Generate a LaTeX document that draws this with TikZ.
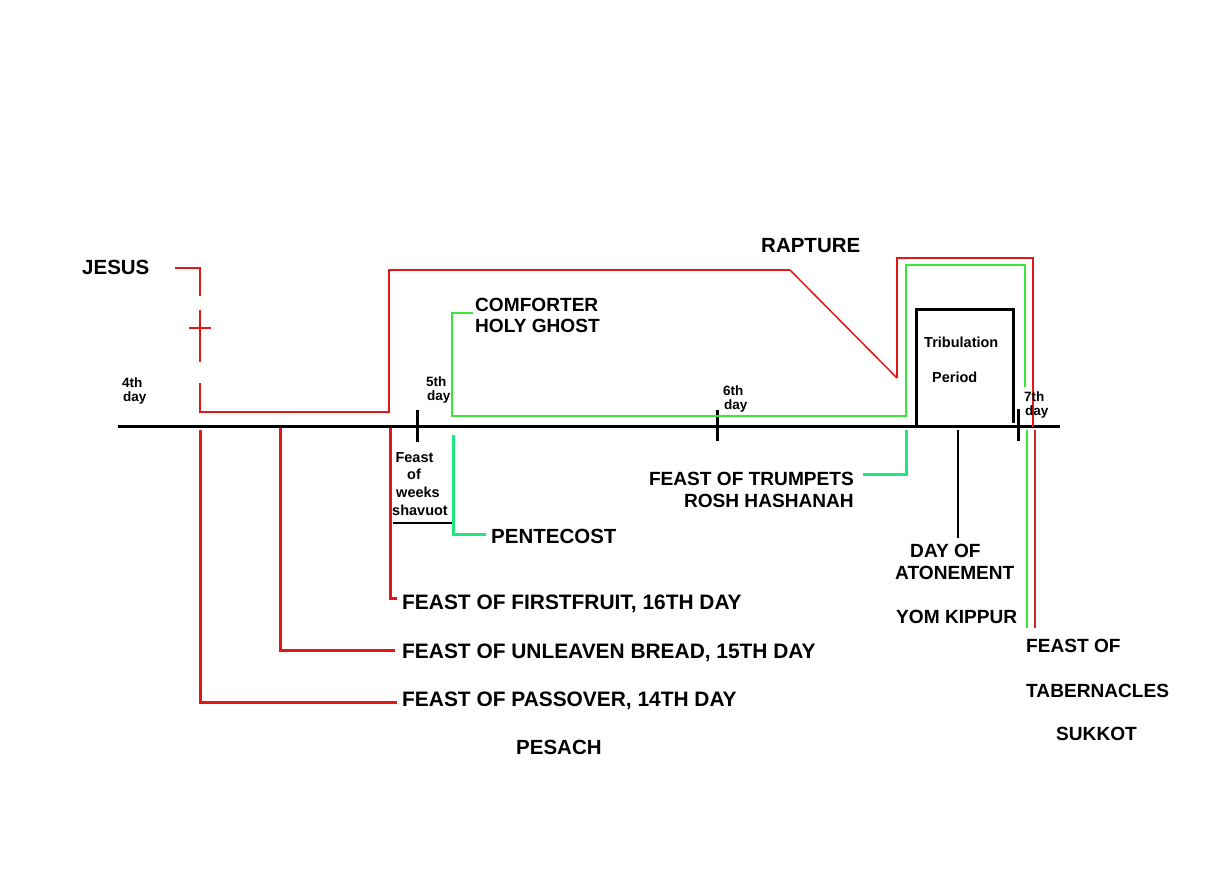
\documentclass[tikz,border=0pt]{standalone}
\usepackage{fontspec}
\setmainfont{Liberation Sans}
\definecolor{redA}{RGB}{228,22,22}
\definecolor{limeA}{RGB}{60,228,60}
\definecolor{springA}{RGB}{30,232,125}
\definecolor{darkredA}{RGB}{200,40,40}
\begin{document}
\begin{tikzpicture}[x=1pt,y=-1pt,
  big/.style={font=\fontsize{20.5}{24}\selectfont\bfseries, inner sep=0},
  feast/.style={font=\fontsize{20.9}{24}\selectfont\bfseries, inner sep=0},
  mid/.style={font=\fontsize{19.1}{22}\selectfont\bfseries, inner sep=0},
  sml/.style={font=\fontsize{14.5}{17}\selectfont\bfseries, inner sep=0},
  dayl/.style={font=\fontsize{13.5}{15}\selectfont\bfseries, inner sep=0},
  axis/.style={line width=3pt, black},
  redthin/.style={line width=2pt, redA},
  redthick/.style={line width=3pt, redA},
  greenthin/.style={line width=2pt, limeA},
  springthick/.style={line width=3pt, springA}]
\fill[white] (0,0) rectangle (1218,870);
\path[use as bounding box] (0,0) rectangle (1218,870);

% axis and ticks
\draw[axis] (118,426) -- (1060,426);
\draw[axis] (417,410) -- (417,442);
\draw[axis] (717,410) -- (717,441);
\draw[axis] (1018,409) -- (1018,441);

% tribulation box
\draw[axis, line join=miter] (916,426) -- (916,309) -- (1013,309) -- (1013,423);
\draw[line width=2pt] (958,430) -- (958,538);
\draw[line width=2pt] (393,523) -- (452,523);

% red upper line (Jesus / rapture)
\draw[redthin] (175,268) -- (200,268) -- (200,296);
\draw[redthin] (200,310) -- (200,362);
\draw[redthin] (189,328) -- (211,328);
\draw[redthin] (200,383) -- (200,412) -- (389,412) -- (389,270) -- (790,270);
\draw[line width=1.5pt, redA] (790,270) -- (897,378);
\draw[redthin] (897,378) -- (897,258) -- (1033,258) -- (1033,427);

% red lower lines
\draw[redthick] (200,430) -- (200,702) -- (397,702);
\draw[redthick] (280,428) -- (280,650) -- (395,650);
\draw[redthick] (390,428) -- (390,598) -- (397,598);

% green upper line
\draw[greenthin] (473,313) -- (452,313) -- (452,416) -- (906,416) -- (906,265)
  -- (1025,265) -- (1025,387);

% green lower
\draw[springthick] (453,435) -- (453,534) -- (486,534);
\draw[springthick] (906,430) -- (906,474) -- (863,474);

% tabernacles
\draw[greenthin] (1027,430) -- (1027,628);
\draw[line width=2pt, darkredA] (1035,430) -- (1035,628);

% texts
\node[big, anchor=base west] (jesus) at (82,274) {JESUS};
\node[big, anchor=base west] (rapture) at (761,252) {RAPTURE};
\node[mid, anchor=base west] (comf) at (475,311) {COMFORTER};
\node[mid, anchor=base west] (holy) at (475,332) {HOLY GHOST};
\node[sml, anchor=base west] (trib) at (924,347) {Tribulation};
\node[sml, anchor=base west] (period) at (932,382) {Period};

\node[dayl, anchor=base west] (d4a) at (122,387) {4th};
\node[dayl, anchor=base west] (d4b) at (123,401) {day};
\node[dayl, anchor=base west] (d5a) at (426,386) {5th};
\node[dayl, anchor=base west] (d5b) at (427,400) {day};
\node[dayl, anchor=base west] (d6a) at (723,395) {6th};
\node[dayl, anchor=base west] (d6b) at (724,409) {day};
\node[dayl, anchor=base west] (d7a) at (1024,401) {7th};
\node[dayl, anchor=base west] (d7b) at (1025,415) {day};

\node[sml, anchor=base] (fw1) at (414.5,462) {Feast};
\node[sml, anchor=base] (fw2) at (414,479) {of};
\node[sml, anchor=base] (fw3) at (418,497) {weeks};
\node[sml, anchor=base] (fw4) at (420,515) {shavuot};

\node[big, anchor=base west] (pente) at (491,543) {PENTECOST};
\node[mid, anchor=base east] (trump) at (854,485) {FEAST OF TRUMPETS};
\node[mid, anchor=base east] (rosh) at (854,507) {ROSH HASHANAH};

\node[mid, anchor=base west] (dayof) at (910,557) {DAY OF};
\node[mid, anchor=base west] (aton) at (895,579) {ATONEMENT};
\node[mid, anchor=base west] (yom) at (896,623) {YOM KIPPUR};

\node[mid, anchor=base west] (fo) at (1026,652) {FEAST OF};
\node[mid, anchor=base west] (tab) at (1026,697) {TABERNACLES};
\node[mid, anchor=base west] (suk) at (1056,740) {SUKKOT};

\node[feast, anchor=base west] (first) at (402,609) {FEAST OF FIRSTFRUIT, 16TH DAY};
\node[feast, anchor=base west] (unl) at (402,658) {FEAST OF UNLEAVEN BREAD, 15TH DAY};
\node[feast, anchor=base west] (pass) at (402,706) {FEAST OF PASSOVER, 14TH DAY};
\node[big, anchor=base west] (pes) at (516,754) {PESACH};
\end{tikzpicture}
\end{document}
